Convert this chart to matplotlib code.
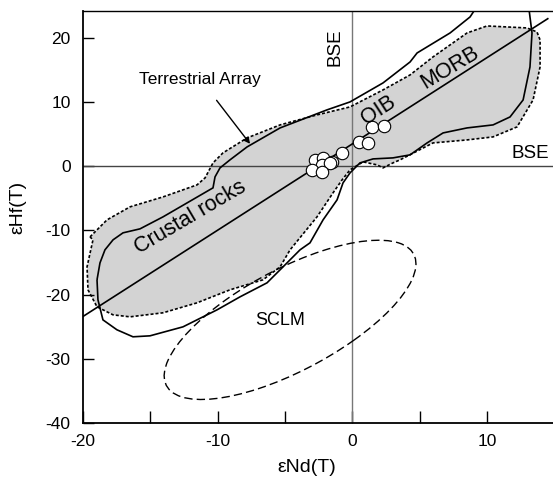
import matplotlib.pyplot as plt
from matplotlib.patches import Polygon, Ellipse

plt.rcParams['font.family'] = ['Liberation Sans', 'DejaVu Sans']
plt.rcParams['axes.unicode_minus'] = False

# Field outlines (eNd, eHf)
gray_field_nd = [-19.48, -18.22, -16.51, -14.06, -11.54, -10.94, -10.35, -9.61, -7.82, -5.37,
                 -2.63, -0.18, 2.27, 4.28, 5.98, 8.51, 9.99, 12.96, 13.70, 13.93,
                 13.93, 13.41, 12.22, 10.44, 8.51, 5.98, 3.53, 3.01, 2.27, 1.83,
                 0.79, -0.18, -0.77, -1.44, -2.63, -4.63, -5.37, -6.64, -9.09, -11.54,
                 -14.06, -16.51, -17.77, -18.96, -19.63, -19.70, -19.26]
gray_field_hf = [-11.00, -8.35, -6.32, -4.77, -2.90, -1.81, 0.53, 2.09, 4.42, 6.45,
                 8.01, 9.25, 11.90, 14.24, 17.04, 20.78, 21.87, 21.56, 20.93, 19.69,
                 15.48, 10.34, 6.14, 4.58, 4.11, 3.64, 1.00, 0.53, -0.25, 0.22,
                 0.69, -0.56, -2.12, -4.14, -7.88, -13.02, -15.67, -17.69, -19.25, -21.28,
                 -22.83, -23.46, -23.15, -21.90, -19.25, -15.67, -11.46]

solid_field_nd = [-18.96, -18.74, -18.37, -17.77, -17.03, -15.77, -14.06, -10.35, -10.20, -9.83,
                  -9.09, -7.82, -5.37, -1.89, -0.18, 2.27, 4.28, 4.80, 7.25, 8.73,
                  9.32, 10.96, 13.04, 13.33, 13.18, 12.67, 11.70, 10.44, 8.51, 6.73,
                  5.54, 4.28, 3.01, 1.53, 0.56, -0.18, -0.70, -1.14, -2.18, -3.15,
                  -3.89, -5.15, -6.34, -8.34, -10.05, -12.58, -15.03, -16.29, -17.48, -18.52,
                  -18.89]
solid_field_hf = [-17.69, -15.05, -13.02, -11.46, -10.37, -9.75, -7.88, -3.36, -1.65, -0.25,
                  1.00, 3.02, 5.98, 8.79, 10.03, 12.99, 16.26, 17.66, 20.78, 23.27,
                  25.14, 26.23, 25.61, 20.78, 15.48, 10.34, 7.69, 6.45, 5.98, 5.20,
                  3.64, 1.78, 1.31, 1.15, 0.53, -1.03, -2.59, -5.23, -8.35, -11.93,
                  -13.02, -15.67, -18.16, -20.34, -22.37, -25.02, -26.42, -26.57, -25.48, -23.93,
                  -20.81]

# SCLM field: centre, axes and tilt in data units
sclm_center = (-4.63, -23.93)
sclm_width = 28.9
sclm_height = 11.4
sclm_angle = 56.1

# Terrestrial array end points
array_nd = [-20.0, 14.5]
array_hf = [-23.4, 23.0]

# Samples
sample_nd = [1.45, 2.35, 0.49, 1.16, -0.77, -2.78, -2.18, -1.51, -2.26, -1.66, -3.00, -2.26]
sample_hf = [6.14, 6.29, 3.80, 3.64, 2.09, 1.00, 1.31, 0.69, 0.22, 0.53, -0.56, -0.87]

fig = plt.figure(figsize=(5.53, 4.78), dpi=100)
ax = fig.add_axes([0.1501, 0.1151, 0.8526, 0.8619])

# shaded field with dotted rim
ax.add_patch(Polygon(list(zip(gray_field_nd, gray_field_hf)), closed=True,
                     facecolor='#d3d3d3', edgecolor='none', zorder=1))
ax.add_patch(Polygon(list(zip(gray_field_nd, gray_field_hf)), closed=True,
                     facecolor='none', edgecolor='black', lw=1.2,
                     linestyle=(0, (1.8, 1.2)), zorder=3))

# solid envelope
ax.add_patch(Polygon(list(zip(solid_field_nd, solid_field_hf)), closed=True,
                     facecolor='none', edgecolor='black', lw=1.2, zorder=3))

# SCLM ellipse
ax.add_patch(Ellipse(sclm_center, sclm_width, sclm_height, angle=sclm_angle,
                     facecolor='none', edgecolor='black', lw=1.0,
                     linestyle=(0, (6, 3)), zorder=3))

# BSE reference lines
ax.axvline(0, color='#777777', lw=1.0, zorder=2)
ax.axhline(0, color='#444444', lw=1.0, zorder=2)

ax.plot(array_nd, array_hf, color='black', lw=1.2, zorder=4)

ax.scatter(sample_nd, sample_hf, s=80, facecolor='white', edgecolor='black',
           linewidth=0.8, zorder=5)

# labels inside the plot
ax.text(-12.0, -8.0, 'Crustal rocks', fontsize=15.5, rotation=30.5,
        ha='center', va='center', zorder=6)
ax.text(1.9, 8.7, 'OIB', fontsize=15.5, rotation=33, ha='center', va='center', zorder=6)
ax.text(7.25, 15.4, 'MORB', fontsize=15.5, rotation=31, ha='center', va='center', zorder=6)
ax.text(-1.3, 18.6, 'BSE', fontsize=13.5, rotation=90, ha='center', va='center', zorder=6)
ax.text(13.2, 0.7, 'BSE', fontsize=13.5, ha='center', va='bottom', zorder=6)
ax.text(-5.37, -24.1, 'SCLM', fontsize=13, ha='center', va='center', zorder=6)
ax.annotate('Terrestrial Array', xy=(-7.6, 3.5), xytext=(-11.3, 13.6),
            fontsize=12.5, ha='center', va='center', zorder=6,
            arrowprops=dict(arrowstyle='-|>', color='black', lw=1.0,
                            mutation_scale=9, shrinkA=10, shrinkB=0))

ax.set_xlim(-20, 15)
ax.set_ylim(-40, 24.2)
ax.set_xticks([-20, -10, 0, 10])
ax.set_xticks([-15, -5, 5], minor=True)
ax.set_yticks([-40, -30, -20, -10, 0, 10, 20])
ax.tick_params(axis='both', which='both', direction='in', length=8.5, width=1.0,
               labelsize=12.5)
ax.tick_params(axis='x', which='major', pad=8)
ax.tick_params(axis='y', which='major', length=8, pad=9)

ax.spines['right'].set_visible(False)
ax.spines['left'].set_linewidth(1.3)
ax.spines['bottom'].set_linewidth(1.3)
ax.spines['top'].set_linewidth(1.0)

ax.set_xlabel('εNd(T)', fontsize=14)
ax.set_ylabel('εHf(T)', fontsize=14)
ax.xaxis.set_label_coords(0.475, -0.087)
ax.yaxis.set_label_coords(-0.121, 0.522)

fig.savefig('out.png', dpi=100)
